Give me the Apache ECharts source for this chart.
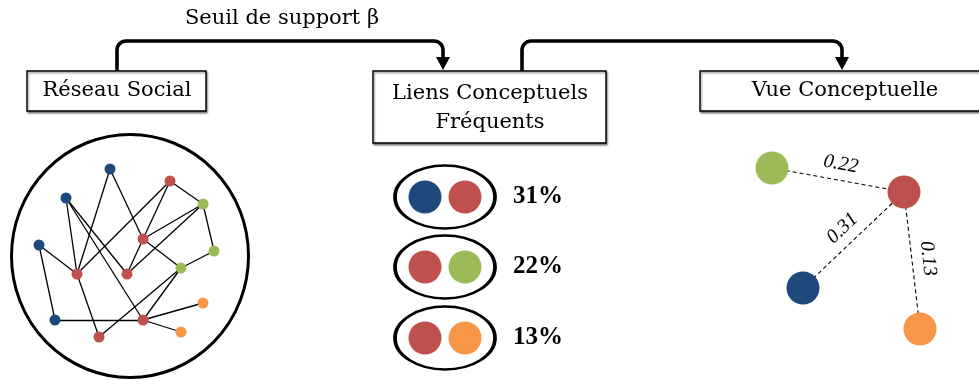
<!DOCTYPE html>
<html>
<head>
<meta charset="utf-8">
<script src="https://cdn.jsdelivr.net/npm/echarts@6/dist/echarts.min.js"></script>
<style>
html,body{margin:0;padding:0;background:#fff;}
#c{width:979px;height:381px;}
</style>
</head>
<body>
<div id="c"></div>
<script>
// ---------- data ----------
const palette = { blue: '#1F497D', red: '#C0504D', green: '#9BBB59', orange: '#F79646' };

// Social network (left)
const netNodeX = [110, 66, 39, 55, 170, 143, 77, 127, 143, 99, 203, 214, 181, 203, 181];
const netNodeY = [169, 198, 245, 320, 181, 239, 274, 274, 320, 337, 204, 251, 268, 303, 332];
const netNodeGroup = ['blue','blue','blue','blue','red','red','red','red','red','red','green','green','green','orange','orange'];
const netEdges = [[0,6],[0,5],[1,6],[1,7],[1,8],[2,6],[2,3],[3,8],[6,4],[6,9],[4,5],[4,10],[5,10],[5,7],[5,12],[7,10],[10,11],[11,12],[12,9],[12,8],[8,13],[8,14]];
const netCircle = [130, 256];

// Boxes (titles)
const boxTitles = ['Réseau Social', 'Liens Conceptuels\nFréquents', 'Vue Conceptuelle'];
const boxRects = [[27, 71, 206, 111], [373, 71, 606, 143], [700, 71, 992, 111]];
const titlePos = [[117, 91], [490, 108], [845, 91]];

// Arrows: [startX, startY, tipX, tipY, topY]
const arrows = [[117, 71, 443, 70, 41], [522, 71, 842, 70, 41]];
const arrowLabel = 'Seuil de support β';
const arrowLabelPos = [282, 19];

// Frequent conceptual links (middle)
const linkPairs = [['blue', 'red'], ['red', 'green'], ['red', 'orange']];
const linkSupport = ['31%', '22%', '13%'];
const linkRowY = [197, 267, 338];
const linkPairX = [425, 465];
const linkEllipseX = 445;
const linkTextX = 538;

// Conceptual view (right)
const viewNodeGroup = ['green', 'red', 'blue', 'orange'];
const viewNodeX = [772, 904, 803, 920];
const viewNodeY = [168, 192, 288, 329];
const viewEdges = [[0, 1, '0.22'], [2, 1, '0.31'], [1, 3, '0.13']];

// ---------- build ----------
const ellipsePath = 'path://M0,50A50,50,0,1,1,100,50A50,50,0,1,1,0,50Z';
const serif = 'DejaVu Serif';

const netNodeData = netNodeX.map((x, i) => ({ value: [x, netNodeY[i]], itemStyle: { color: palette[netNodeGroup[i]] } }));
const netEdgeData = netEdges.map(([a, b]) => ({ coords: [[netNodeX[a], netNodeY[a]], [netNodeX[b], netNodeY[b]]] }));

const ellipseData = linkRowY.map(y => ({ value: [linkEllipseX, y], symbolSize: [100, 63] }));
ellipseData.push({ value: netCircle, symbolSize: [237, 243] });

const pairNodeData = [];
linkPairs.forEach((pair, r) => {
  pair.forEach((g, k) => pairNodeData.push({ value: [linkPairX[k], linkRowY[r]], itemStyle: { color: palette[g] } }));
});
const supportData = linkSupport.map((t, r) => ({ value: [linkTextX, linkRowY[r]], name: t }));

const viewNodeData = viewNodeX.map((x, i) => ({ value: [x, viewNodeY[i]], itemStyle: { color: palette[viewNodeGroup[i]] } }));
const viewEdgeData = viewEdges.map(([a, b, w]) => ({ coords: [[viewNodeX[a], viewNodeY[a]], [viewNodeX[b], viewNodeY[b]]], name: w }));

const titleData = boxTitles.map((t, i) => ({ value: titlePos[i], name: t }));
titleData.push({ value: arrowLabelPos, name: arrowLabel });

const textBase = { show: true, position: 'inside', formatter: p => p.name, color: '#000', opacity: 1, textBorderWidth: 0, textShadowBlur: 0 };

const chart = echarts.init(document.getElementById('c'), null, { renderer: 'canvas' });
chart.setOption({
  animation: false,
  backgroundColor: '#fff',
  grid: { left: 0, right: 0, top: 0, bottom: 0 },
  xAxis: { type: 'value', min: 0, max: 979, show: false },
  yAxis: { type: 'value', min: 0, max: 381, inverse: true, show: false },
  series: [
    // boxes
    {
      type: 'custom', z: 2, clip: false,
      encode: { x: [0, 2], y: [1, 3] },
      data: boxRects,
      renderItem: function (params, api) {
        const p0 = api.coord([api.value(0), api.value(1)]);
        const p1 = api.coord([api.value(2), api.value(3)]);
        return {
          type: 'rect',
          shape: { x: p0[0], y: p0[1], width: p1[0] - p0[0], height: p1[1] - p0[1] },
          style: { fill: '#fff', stroke: '#000', lineWidth: 1.4, shadowBlur: 2, shadowOffsetX: 1, shadowOffsetY: 1.5, shadowColor: 'rgba(0,0,0,0.45)' }
        };
      }
    },
    // arrows
    {
      type: 'custom', z: 3, clip: false,
      encode: { x: [0, 2], y: [1, 3, 4] },
      data: arrows,
      renderItem: function (params, api) {
        const p0 = api.coord([api.value(0), api.value(1)]);
        const p1 = api.coord([api.value(2), api.value(3)]);
        const top = api.coord([0, api.value(4)])[1];
        const r = 9, head = 13, hw = 7;
        const pts = [[p0[0], p0[1]]];
        for (let k = 0; k <= 8; k++) {
          const a = Math.PI + (Math.PI / 2) * k / 8;
          pts.push([p0[0] + r + r * Math.cos(a), top + r + r * Math.sin(a)]);
        }
        for (let k = 0; k <= 8; k++) {
          const a = -Math.PI / 2 + (Math.PI / 2) * k / 8;
          pts.push([p1[0] - r + r * Math.cos(a), top + r + r * Math.sin(a)]);
        }
        pts.push([p1[0], p1[1] - head + 1]);
        return {
          type: 'group',
          children: [
            { type: 'polyline', shape: { points: pts }, style: { stroke: '#000', lineWidth: 3.6, fill: null, lineJoin: 'round' } },
            { type: 'polygon', shape: { points: [[p1[0] - hw, p1[1] - head], [p1[0] + hw, p1[1] - head], [p1[0], p1[1]]] }, style: { fill: '#000' } }
          ]
        };
      }
    },
    // titles & arrow label
    {
      type: 'scatter', z: 6, symbolSize: 0, silent: true,
      data: titleData, itemStyle: { opacity: 1 },
      label: Object.assign({}, textBase, { fontFamily: serif, fontSize: 21, lineHeight: 29 })
    },
    // network edges
    {
      type: 'lines', coordinateSystem: 'cartesian2d', z: 2, silent: true,
      data: netEdgeData,
      lineStyle: { color: '#000', width: 1.3, opacity: 1 }
    },
    // ellipses (and network circle)
    {
      type: 'scatter', z: 1, symbol: ellipsePath, silent: true,
      data: ellipseData,
      itemStyle: { color: 'transparent', borderColor: '#000', borderWidth: 3, opacity: 1 }
    },
    // network nodes
    {
      type: 'scatter', z: 4, symbol: 'circle', symbolSize: 11, silent: true,
      data: netNodeData, itemStyle: { opacity: 1 }
    },
    // pair nodes
    {
      type: 'scatter', z: 4, symbol: 'circle', symbolSize: 33, silent: true,
      data: pairNodeData, itemStyle: { opacity: 1 }
    },
    // support labels
    {
      type: 'scatter', z: 6, symbolSize: 0, silent: true,
      data: supportData, itemStyle: { opacity: 1 },
      label: Object.assign({}, textBase, { fontFamily: 'Liberation Serif', fontWeight: 'bold', fontSize: 25 })
    },
    // view edges
    {
      type: 'lines', coordinateSystem: 'cartesian2d', z: 2, silent: true,
      data: viewEdgeData,
      lineStyle: { color: '#000', width: 1.1, type: [4, 3], opacity: 1 },
      label: { show: true, position: 'middle', formatter: p => p.name, color: '#000', fontFamily: 'Liberation Serif', fontStyle: 'italic', fontSize: 20, distance: 6, textBorderWidth: 0 }
    },
    // view nodes
    {
      type: 'scatter', z: 4, symbol: 'circle', symbolSize: 33, silent: true,
      data: viewNodeData, itemStyle: { opacity: 1 }
    }
  ]
});
</script>
</body>
</html>
